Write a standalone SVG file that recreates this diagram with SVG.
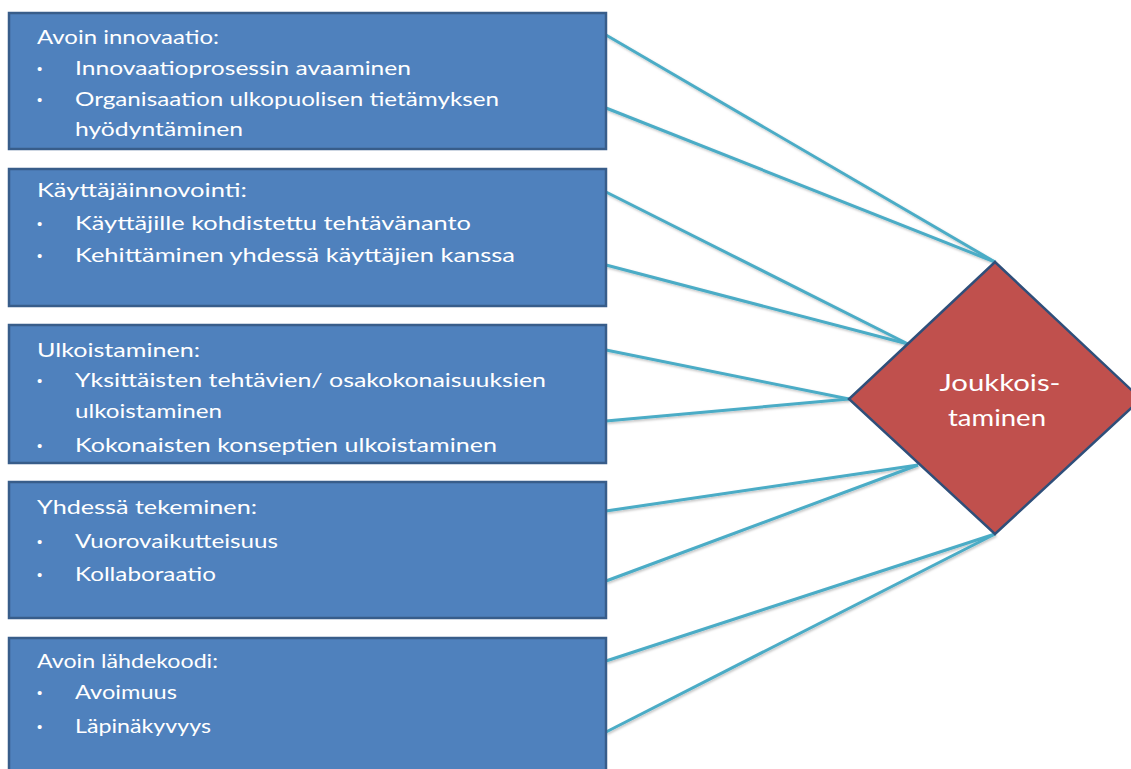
<svg xmlns="http://www.w3.org/2000/svg" width="1131" height="769" viewBox="0 0 1131 769">
  <style>
    .box { fill: #4F81BD; stroke: #385D8A; stroke-width: 2.5; }
    .dia { fill: #C0504D; stroke: #2F4F7A; stroke-width: 2.5; }
    .conn { stroke: #4BACC6; stroke-width: 3; fill: none; }
    .t { font-family: Lato, "Open Sans", "Liberation Sans", sans-serif; font-size: 20px; fill: #FFFFFF; }
    .b { font-family: "Liberation Sans", sans-serif; font-size: 15px; fill: #FFFFFF; }
    .c { font-family: Lato, "Open Sans", "Liberation Sans", sans-serif; font-size: 23px; fill: #FFFFFF; text-anchor: middle; }
  </style>
  <defs>
    <filter id="sh" x="-5%" y="-5%" width="110%" height="110%">
      <feDropShadow dx="1" dy="1.5" stdDeviation="1" flood-color="#000" flood-opacity="0.25"/>
    </filter>
  </defs>
  <rect width="1131" height="769" fill="#FFFFFF"/>

  <g id="connectors" filter="url(#sh)">
    <line class="conn" x1="606" y1="35" x2="995" y2="262"/>
    <line class="conn" x1="606" y1="108" x2="995" y2="262"/>
    <line class="conn" x1="606" y1="192" x2="908" y2="344"/>
    <line class="conn" x1="606" y1="265" x2="908" y2="344"/>
    <line class="conn" x1="606" y1="350" x2="849" y2="399"/>
    <line class="conn" x1="606" y1="421" x2="849" y2="399"/>
    <line class="conn" x1="606" y1="511" x2="918" y2="465"/>
    <line class="conn" x1="606" y1="581" x2="918" y2="465"/>
    <line class="conn" x1="606" y1="661" x2="995" y2="534"/>
    <line class="conn" x1="606" y1="732" x2="995" y2="534"/>
  </g>

  <g id="avoin-innovaatio">
    <rect class="box" x="9" y="13" width="597" height="136"/>
    <text class="t" x="37" y="44" textLength="182" lengthAdjust="spacingAndGlyphs">Avoin innovaatio:</text>
    <text class="b" x="37" y="74">•</text>
    <text class="t" x="75" y="75" textLength="336" lengthAdjust="spacingAndGlyphs">Innovaatioprosessin avaaminen</text>
    <text class="b" x="37" y="105">•</text>
    <text class="t" x="75" y="106" textLength="424" lengthAdjust="spacingAndGlyphs">Organisaation ulkopuolisen tietämyksen</text>
    <text class="t" x="75" y="136" textLength="168" lengthAdjust="spacingAndGlyphs">hyödyntäminen</text>
  </g>

  <g id="kayttajainnovointi">
    <rect class="box" x="9" y="169" width="597" height="137"/>
    <text class="t" x="37" y="197" textLength="210" lengthAdjust="spacingAndGlyphs">Käyttäjäinnovointi:</text>
    <text class="b" x="37" y="229">•</text>
    <text class="t" x="75" y="230" textLength="396" lengthAdjust="spacingAndGlyphs">Käyttäjille kohdistettu tehtävänanto</text>
    <text class="b" x="37" y="261">•</text>
    <text class="t" x="75" y="262" textLength="440" lengthAdjust="spacingAndGlyphs">Kehittäminen yhdessä käyttäjien kanssa</text>
  </g>

  <g id="ulkoistaminen">
    <rect class="box" x="9" y="325" width="597" height="138"/>
    <text class="t" x="37" y="357" textLength="163" lengthAdjust="spacingAndGlyphs">Ulkoistaminen:</text>
    <text class="b" x="37" y="386">•</text>
    <text class="t" x="75" y="387" textLength="471" lengthAdjust="spacingAndGlyphs">Yksittäisten tehtävien/ osakokonaisuuksien</text>
    <text class="t" x="75" y="418" textLength="147" lengthAdjust="spacingAndGlyphs">ulkoistaminen</text>
    <text class="b" x="37" y="451">•</text>
    <text class="t" x="75" y="452" textLength="422" lengthAdjust="spacingAndGlyphs">Kokonaisten konseptien ulkoistaminen</text>
  </g>

  <g id="yhdessa-tekeminen">
    <rect class="box" x="9" y="482" width="597" height="136"/>
    <text class="t" x="37" y="514" textLength="220" lengthAdjust="spacingAndGlyphs">Yhdessä tekeminen:</text>
    <text class="b" x="37" y="547">•</text>
    <text class="t" x="75" y="548" textLength="203" lengthAdjust="spacingAndGlyphs">Vuorovaikutteisuus</text>
    <text class="b" x="37" y="580">•</text>
    <text class="t" x="75" y="581" textLength="141" lengthAdjust="spacingAndGlyphs">Kollaboraatio</text>
  </g>

  <g id="avoin-lahdekoodi">
    <rect class="box" x="9" y="638" width="597" height="140"/>
    <text class="t" x="37" y="668" textLength="181" lengthAdjust="spacingAndGlyphs">Avoin lähdekoodi:</text>
    <text class="b" x="37" y="698">•</text>
    <text class="t" x="75" y="699" textLength="102" lengthAdjust="spacingAndGlyphs">Avoimuus</text>
    <text class="b" x="37" y="732">•</text>
    <text class="t" x="75" y="733" textLength="136" lengthAdjust="spacingAndGlyphs">Läpinäkyvyys</text>
  </g>

  <g id="joukkoistaminen">
    <polygon class="dia" points="995,262 1141,399 995,534 849,399"/>
    <text class="c" x="1000" y="391" textLength="121" lengthAdjust="spacingAndGlyphs">Joukkois-</text>
    <text class="c" x="997" y="426" textLength="98" lengthAdjust="spacingAndGlyphs">taminen</text>
  </g>
</svg>
